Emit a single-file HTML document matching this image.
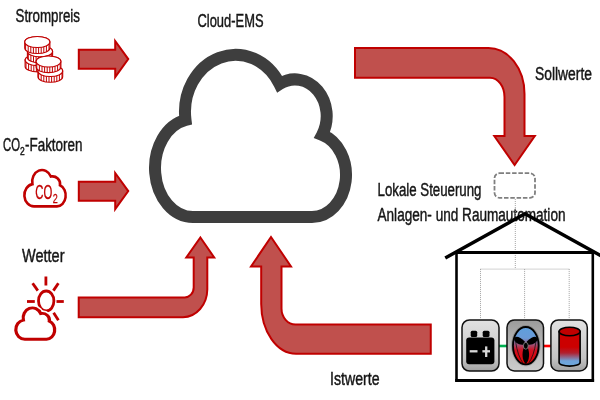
<!DOCTYPE html>
<html><head><meta charset="utf-8">
<style>
html,body{margin:0;padding:0;background:#fff;width:600px;height:400px;overflow:hidden}
svg{position:absolute;left:0;top:0;display:block;filter:blur(0.35px)}
text{font-family:"Liberation Sans",sans-serif;fill:#161616}
</style></head>
<body>
<svg width="600" height="400" viewBox="0 0 600 400">
<defs>
  <path id="cloud" d="M193.00 217.00 A38 49 0 0 1 185.49 119.97 A50.5 57.2 0 0 1 279.55 84.04 A31.7 36.6 0 0 1 322.14 134.91 A34 42 0 0 1 312.00 217.00 Z"/>
  <path id="scloud" d="M34.00 206.40 A9.6 11.2 0 0 1 32.46 184.14 A9.8 11.5 0 0 1 50.86 176.58 A7.6 7.6 0 0 1 59.99 185.27 A8.7 10.9 0 0 1 57.00 206.40 Z"/>
</defs>

<!-- Texts -->
<g font-size="18" stroke="#161616" stroke-width="0.45" style="will-change:transform">
  <text x="15.5" y="21.7" textLength="64.5" lengthAdjust="spacingAndGlyphs">Strompreis</text>
  <text x="3" y="151" textLength="17" lengthAdjust="spacingAndGlyphs">CO</text>
  <text x="20" y="154.7" font-size="11" textLength="4.7" lengthAdjust="spacingAndGlyphs">2</text>
  <text x="25" y="151" textLength="57.5" lengthAdjust="spacingAndGlyphs">-Faktoren</text>
  <text x="22" y="261.5" textLength="42.5" lengthAdjust="spacingAndGlyphs">Wetter</text>
  <text x="197.5" y="26.7" textLength="66" lengthAdjust="spacingAndGlyphs">Cloud-EMS</text>
  <text x="535" y="79.8" textLength="57" lengthAdjust="spacingAndGlyphs">Sollwerte</text>
  <text x="377.5" y="196" textLength="104" lengthAdjust="spacingAndGlyphs">Lokale Steuerung</text>
  <text x="377.5" y="220.5" textLength="188" lengthAdjust="spacingAndGlyphs">Anlagen- und Raumautomation</text>
  <text x="330" y="384.7" textLength="49.5" lengthAdjust="spacingAndGlyphs">Istwerte</text>
</g>

<!-- Big cloud -->
<use href="#cloud" fill="none" stroke="#3E3E3E" stroke-width="12" stroke-linejoin="miter"/>

<!-- small straight arrows -->
<g fill="#C0504D" stroke="#C00000" stroke-width="2" stroke-linejoin="miter">
  <path d="M78.8 49.7 H115.2 V41 L128.25 59.1 L115.2 77.2 V68.7 H78.8 Z"/>
  <path transform="translate(0 132)" d="M78.8 49.7 H115.2 V41 L128.25 59.1 L115.2 77.2 V68.7 H78.8 Z"/>
</g>

<!-- bent arrows -->
<g fill="#C0504D" stroke="#C00000" stroke-width="2" stroke-linejoin="miter">
  <!-- Sollwerte -->
  <path d="M355 48 L488.5 48 A36 46 0 0 1 524.5 94 L524.5 136 L534.8 136 L514.6 165 L494.3 136 L504.5 136 L504.5 97 A14.5 19.3 0 0 0 490 77.7 L355 77.7 Z"/>
  <!-- Istwerte -->
  <path d="M271 237 L291 266.5 L281.5 266.5 L281.5 308.5 A14 16 0 0 0 295.5 324.5 L430.75 324.5 L430.75 353.75 L296 353.75 A35 50 0 0 1 261.2 304 L261.2 266.5 L251 266.5 Z"/>
  <!-- Wetter -->
  <path d="M200.4 237.5 L214.2 257.5 L207.3 257.5 L207.3 289.5 A24.5 28 0 0 1 183 317.2 L78.7 317.2 L78.7 297.4 L184.3 297.4 A9 10 0 0 0 193.7 287.4 L193.7 257.5 L186.3 257.5 Z"/>
</g>

<!-- CO2 small cloud -->
<use href="#scloud" fill="none" stroke="#C00000" stroke-width="2.6"/>
<text x="35.3" y="198.6" font-size="19.5" style="fill:#C00000" stroke="#C00000" stroke-width="0.35" textLength="17" lengthAdjust="spacingAndGlyphs">CO</text>
<text x="52.8" y="202.5" font-size="13.5" style="fill:#C00000" stroke="#C00000" stroke-width="0.3" textLength="5" lengthAdjust="spacingAndGlyphs">2</text>

<!-- Weather icon -->
<g stroke="#C00000" stroke-width="2.8" fill="none" stroke-linecap="butt">
  <ellipse cx="46.2" cy="301" rx="7.7" ry="10"/>
  <line x1="45.9" y1="276.5" x2="45.9" y2="285.5"/>
  <line x1="56.5" y1="301.5" x2="63.8" y2="301.5"/>
  <line x1="27" y1="301.5" x2="34.8" y2="301.5"/>
  <line x1="32.6" y1="283.2" x2="37.8" y2="290.6"/>
  <line x1="58.4" y1="283.2" x2="53.4" y2="290.6"/>
  <line x1="53.6" y1="312.8" x2="58.4" y2="320.2"/>
</g>
<g transform="translate(15.8 307.9) scale(0.942 0.863) translate(-24.4 -170)">
  <use href="#scloud" fill="#fff" stroke="#fff" stroke-width="7"/>
  <use href="#scloud" fill="#fff" stroke="#C00000" stroke-width="3.4"/>
</g>

<!-- coins icon -->
<g id="coins">
<path d="M25.10 60.10 A12.6 5.5 0 0 1 50.30 60.10 V66.40 A12.6 5.5 0 0 1 25.10 66.40 Z" fill="#fff" stroke="#C00000" stroke-width="1.1"/>
<path d="M26.00 62.14V68.44M28.60 63.90V70.20M31.20 64.81V71.11M33.80 65.33V71.63M36.40 65.57V71.87M39.00 65.57V71.87M41.60 65.33V71.63M44.20 64.81V71.11M46.80 63.90V70.20M49.40 62.14V68.44" stroke="#C00000" stroke-width="1.0"/>
<ellipse cx="37.7" cy="60.1" rx="12.6" ry="5.5" fill="#fff" stroke="#C00000" stroke-width="1.1"/>
<path d="M27.40 51.40 A12.6 5.5 0 0 1 52.60 51.40 V57.40 A12.6 5.5 0 0 1 27.40 57.40 Z" fill="#fff" stroke="#C00000" stroke-width="1.1"/>
<path d="M28.30 53.44V59.44M30.90 55.20V61.20M33.50 56.11V62.11M36.10 56.63V62.63M38.70 56.87V62.87M41.30 56.87V62.87M43.90 56.63V62.63M46.50 56.11V62.11M49.10 55.20V61.20M51.70 53.44V59.44" stroke="#C00000" stroke-width="1.0"/>
<ellipse cx="40.0" cy="51.4" rx="12.6" ry="5.5" fill="#fff" stroke="#C00000" stroke-width="1.1"/>
<path d="M24.70 42.00 A12.6 5.5 0 0 1 49.90 42.00 V48.00 A12.6 5.5 0 0 1 24.70 48.00 Z" fill="#fff" stroke="#C00000" stroke-width="1.1"/>
<path d="M25.60 44.04V50.04M28.20 45.80V51.80M30.80 46.71V52.71M33.40 47.23V53.23M36.00 47.47V53.47M38.60 47.47V53.47M41.20 47.23V53.23M43.80 46.71V52.71M46.40 45.80V51.80M49.00 44.04V50.04" stroke="#C00000" stroke-width="1.0"/>
<ellipse cx="37.3" cy="42.0" rx="12.6" ry="5.5" fill="#fff" stroke="#C00000" stroke-width="1.1"/>
<path d="M37.90 71.00 A12.4 5.5 0 0 1 62.70 71.00 V76.80 A12.4 5.5 0 0 1 37.90 76.80 Z" fill="#fff" stroke="#C00000" stroke-width="1.1"/>
<path d="M38.60 72.82V78.62M41.20 74.74V80.54M43.80 75.68V81.48M46.40 76.22V82.02M49.00 76.47V82.27M51.60 76.47V82.27M54.20 76.22V82.02M56.80 75.68V81.48M59.40 74.74V80.54M62.00 72.82V78.62" stroke="#C00000" stroke-width="1.0"/>
<ellipse cx="50.3" cy="71.0" rx="12.4" ry="5.5" fill="#fff" stroke="#C00000" stroke-width="1.1"/>
<path d="M36.10 61.50 A12.4 5.5 0 0 1 60.90 61.50 V67.10 A12.4 5.5 0 0 1 36.10 67.10 Z" fill="#fff" stroke="#C00000" stroke-width="1.1"/>
<path d="M36.80 63.32V68.92M39.40 65.24V70.84M42.00 66.18V71.78M44.60 66.72V72.32M47.20 66.97V72.57M49.80 66.97V72.57M52.40 66.72V72.32M55.00 66.18V71.78M57.60 65.24V70.84M60.20 63.32V68.92" stroke="#C00000" stroke-width="1.0"/>
<ellipse cx="48.5" cy="61.5" rx="12.4" ry="5.5" fill="#fff" stroke="#C00000" stroke-width="1.1"/>

</g>

<!-- dashed box -->
<rect x="494.5" y="173.2" width="40.5" height="24.6" rx="5" fill="none" stroke="#7F7F7F" stroke-width="1.8" stroke-dasharray="4.5 1.8"/>

<!-- dotted lines -->
<g stroke="#9A9A9A" stroke-width="0.9" stroke-dasharray="1 1" fill="none">
  <path d="M515.3 199 V269.1 M480.5 269.1 H569.2 M480.5 269.1 V319 M524.6 269.1 V319 M569.2 269.1 V319"/>
</g>

<!-- House -->
<g stroke="#000" fill="none">
  <polyline points="445.25,258 525,213.7 605,258" stroke-width="3.5" stroke-linejoin="miter"/>
  <line x1="455" y1="252.4" x2="594" y2="252.4" stroke-width="3"/>
  <line x1="456.5" y1="251" x2="456.5" y2="381.8" stroke-width="2.6"/>
  <line x1="592.8" y1="251" x2="592.8" y2="381.8" stroke-width="2.6"/>
  <line x1="455.2" y1="380.5" x2="594.1" y2="380.5" stroke-width="3"/>
</g>

<!-- device icons -->
<defs>
  <linearGradient id="gLight" x1="0" y1="0" x2="0" y2="1">
    <stop offset="0" stop-color="#E2E2E2"/><stop offset="0.75" stop-color="#C4C4C4"/><stop offset="1" stop-color="#A2A2A2"/>
  </linearGradient>
  <linearGradient id="gDark" x1="0" y1="0" x2="0" y2="1">
    <stop offset="0" stop-color="#9A9A9A"/><stop offset="0.5" stop-color="#B8B8B8"/><stop offset="1" stop-color="#CCCCCC"/>
  </linearGradient>
  <linearGradient id="gFan" x1="0" y1="0" x2="0" y2="1">
    <stop offset="0" stop-color="#5E9FDD"/><stop offset="0.3" stop-color="#6A9AD6"/><stop offset="0.62" stop-color="#D01020"/><stop offset="1" stop-color="#E00000"/>
  </linearGradient>
  <linearGradient id="gTank" x1="0" y1="0" x2="0" y2="1">
    <stop offset="0" stop-color="#CC0000"/><stop offset="0.45" stop-color="#CC0000"/><stop offset="0.62" stop-color="#B02030"/><stop offset="0.85" stop-color="#6FA3DA"/><stop offset="1" stop-color="#6FA8DC"/>
  </linearGradient>
  <radialGradient id="gShadow" cx="0.5" cy="0.5" r="0.5">
    <stop offset="0.8" stop-color="#000" stop-opacity="0.6"/><stop offset="1" stop-color="#000" stop-opacity="0"/>
  </radialGradient>
</defs>
<!-- connectors -->
<line x1="499" y1="346" x2="507" y2="346" stroke="#00B050" stroke-width="2.6"/>
<line x1="543.5" y1="346" x2="551" y2="346" stroke="#FF0000" stroke-width="2.6"/>
<!-- battery box -->
<rect x="462" y="319.9" width="37" height="51.2" rx="7.5" fill="url(#gLight)" stroke="#111" stroke-width="1.5"/>
<rect x="466.2" y="337.5" width="28.2" height="26.7" rx="3" fill="#000"/>
<rect x="470.7" y="330.7" width="6.5" height="6.2" rx="1.5" fill="#000"/>
<rect x="482.7" y="330.7" width="6.8" height="6.2" rx="1.5" fill="#000"/>
<g stroke="#D8D8D8" stroke-width="2.3">
  <line x1="469.7" y1="351.3" x2="477.5" y2="351.3"/>
  <line x1="482.4" y1="351.3" x2="490" y2="351.3"/>
  <line x1="486.2" y1="346.4" x2="486.2" y2="357"/>
</g>
<!-- fan box -->
<rect x="507" y="319.9" width="36.5" height="51" rx="7.5" fill="url(#gDark)" stroke="#111" stroke-width="1.5"/>
<ellipse cx="525.8" cy="345.7" rx="15.2" ry="21.2" fill="url(#gShadow)"/>
<ellipse cx="525.8" cy="345.7" rx="12.8" ry="18.7" fill="url(#gFan)" stroke="#000" stroke-width="1.8"/>
<g fill="#000">
  <path d="M524.6 344.8 C521 345.2 514.6 343.6 514.2 339.2 C513.9 335.4 519.5 335.6 524.8 341.4 Z"/>
  <path d="M 527.00 344.80 C 530.60 345.20 537.00 343.60 537.40 339.20 C 537.70 335.40 532.10 335.60 526.80 341.40 Z"/>
  <path d="M523.7 348 C521.8 353 522 360.5 525.8 364 C529.6 360.5 529.8 353 527.9 348 Z"/>
</g>
<g fill="none" stroke="#111" stroke-width="0.8">
  <path d="M515.6 341.5 Q517.6 356 523.3 363.6"/>
  <path d="M 536.00 341.50 Q 534.00 356.00 528.30 363.60"/>
</g>
<ellipse cx="525.8" cy="345.8" rx="2.4" ry="3.4" fill="#000" stroke="#8A8A8A" stroke-width="0.8"/>
<!-- tank box -->
<rect x="550.9" y="319.9" width="36.4" height="51" rx="7.5" fill="url(#gLight)" stroke="#111" stroke-width="1.5"/>
<path d="M559.1 331.5 V362.5 A10.5 3.6 0 0 0 580.1 362.5 V331.5 Z" fill="url(#gTank)" stroke="#000" stroke-width="1.6"/>
<ellipse cx="569.6" cy="331.5" rx="10.5" ry="4.2" fill="#C00000" stroke="#000" stroke-width="1.6"/>


</svg>
</body></html>
